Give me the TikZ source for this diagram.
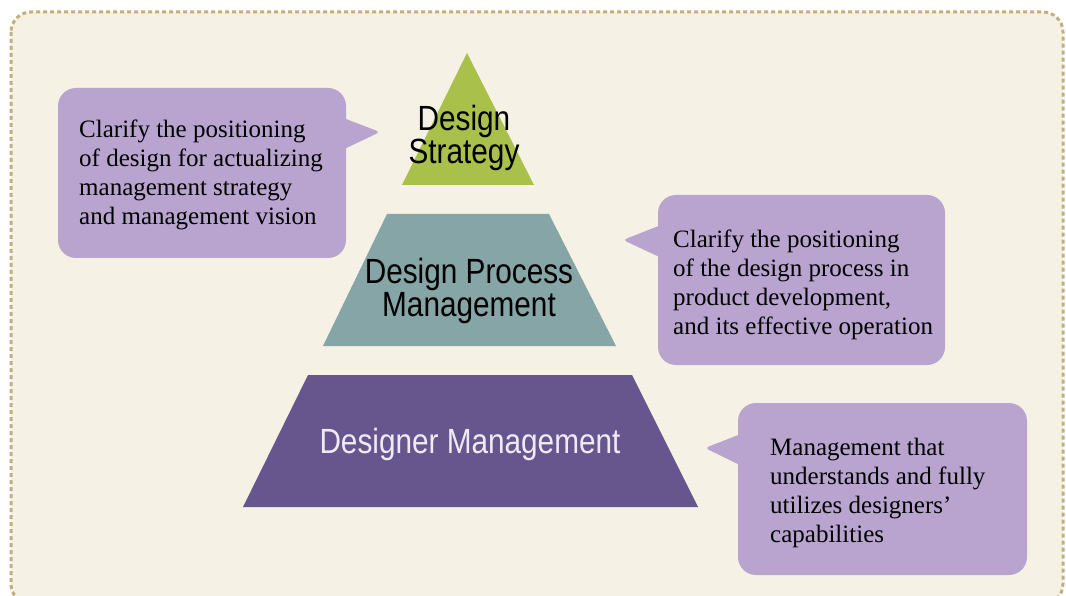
\documentclass[tikz,border=0pt]{standalone}
\usepackage{fontspec}
\setmainfont{Liberation Serif}
\newfontfamily\narrowsans[FakeStretch=0.85]{Liberation Sans}
\definecolor{creamc}{HTML}{F5F1E4}
\definecolor{framec}{HTML}{C4AE7C}
\definecolor{greenc}{HTML}{A9C14B}
\definecolor{tealc}{HTML}{85A5A6}
\definecolor{purplec}{HTML}{67558D}
\definecolor{bubblec}{HTML}{B8A4CE}
\definecolor{lighttext}{HTML}{F0EAF5}
\begin{document}
\begin{tikzpicture}[x=1pt,y=-1pt,
  bubble/.style={fill=bubblec, rounded corners=18pt},
  tier/.style={inner sep=0pt, align=center, font=\narrowsans\fontsize{35}{27}\selectfont},
  note/.style={inner sep=0pt, align=left, anchor=north west, font=\fontsize{25}{29}\selectfont}]
\useasboundingbox (0,0) rectangle (1066,596);
\fill[white] (0,0) rectangle (1066,596);
\draw[framec, fill=creamc, line width=3pt, dash pattern=on 4pt off 3pt, rounded corners=20pt] (11,12) rectangle (1063,604);
% pyramid tiers
\fill[greenc] (467,53) -- (534,185) -- (402,185) -- cycle;
\fill[tealc] (387,214) -- (549,214) -- (616,346) -- (323,346) -- cycle;
\fill[purplec] (308,375) -- (632,375) -- (698,507) -- (243,507) -- cycle;
\node[tier] (strategy) at (464,138) {Design\\Strategy};
\node[tier] (process) at (469,291) {Design Process\\Management};
\node[tier, text=lighttext] (designer) at (470,444) {Designer Management};
% bubbles
\fill[bubble] (58,88) rectangle (346,258);
\fill[bubblec] (338,116) [rounded corners=4pt] -- (380,132) [sharp corners] -- (338,152) -- cycle;
\fill[bubble] (658,195) rectangle (945,365);
\fill[bubblec] (666,223) [rounded corners=4pt] -- (623,240) [sharp corners] -- (666,260) -- cycle;
\fill[bubble] (738,403) rectangle (1027,575);
\fill[bubblec] (746,432) [rounded corners=4pt] -- (705,448) [sharp corners] -- (746,468) -- cycle;
\node[note] (note1) at (79,120) {Clarify the positioning\\of design for actualizing\\management strategy\\and management vision};
\node[note] (note2) at (673,230) {Clarify the positioning\\of the design process in\\product development,\\and its effective operation};
\node[note] (note3) at (770,438) {Management that\\understands and fully\\utilizes designers'\\capabilities};
\end{tikzpicture}
\end{document}
